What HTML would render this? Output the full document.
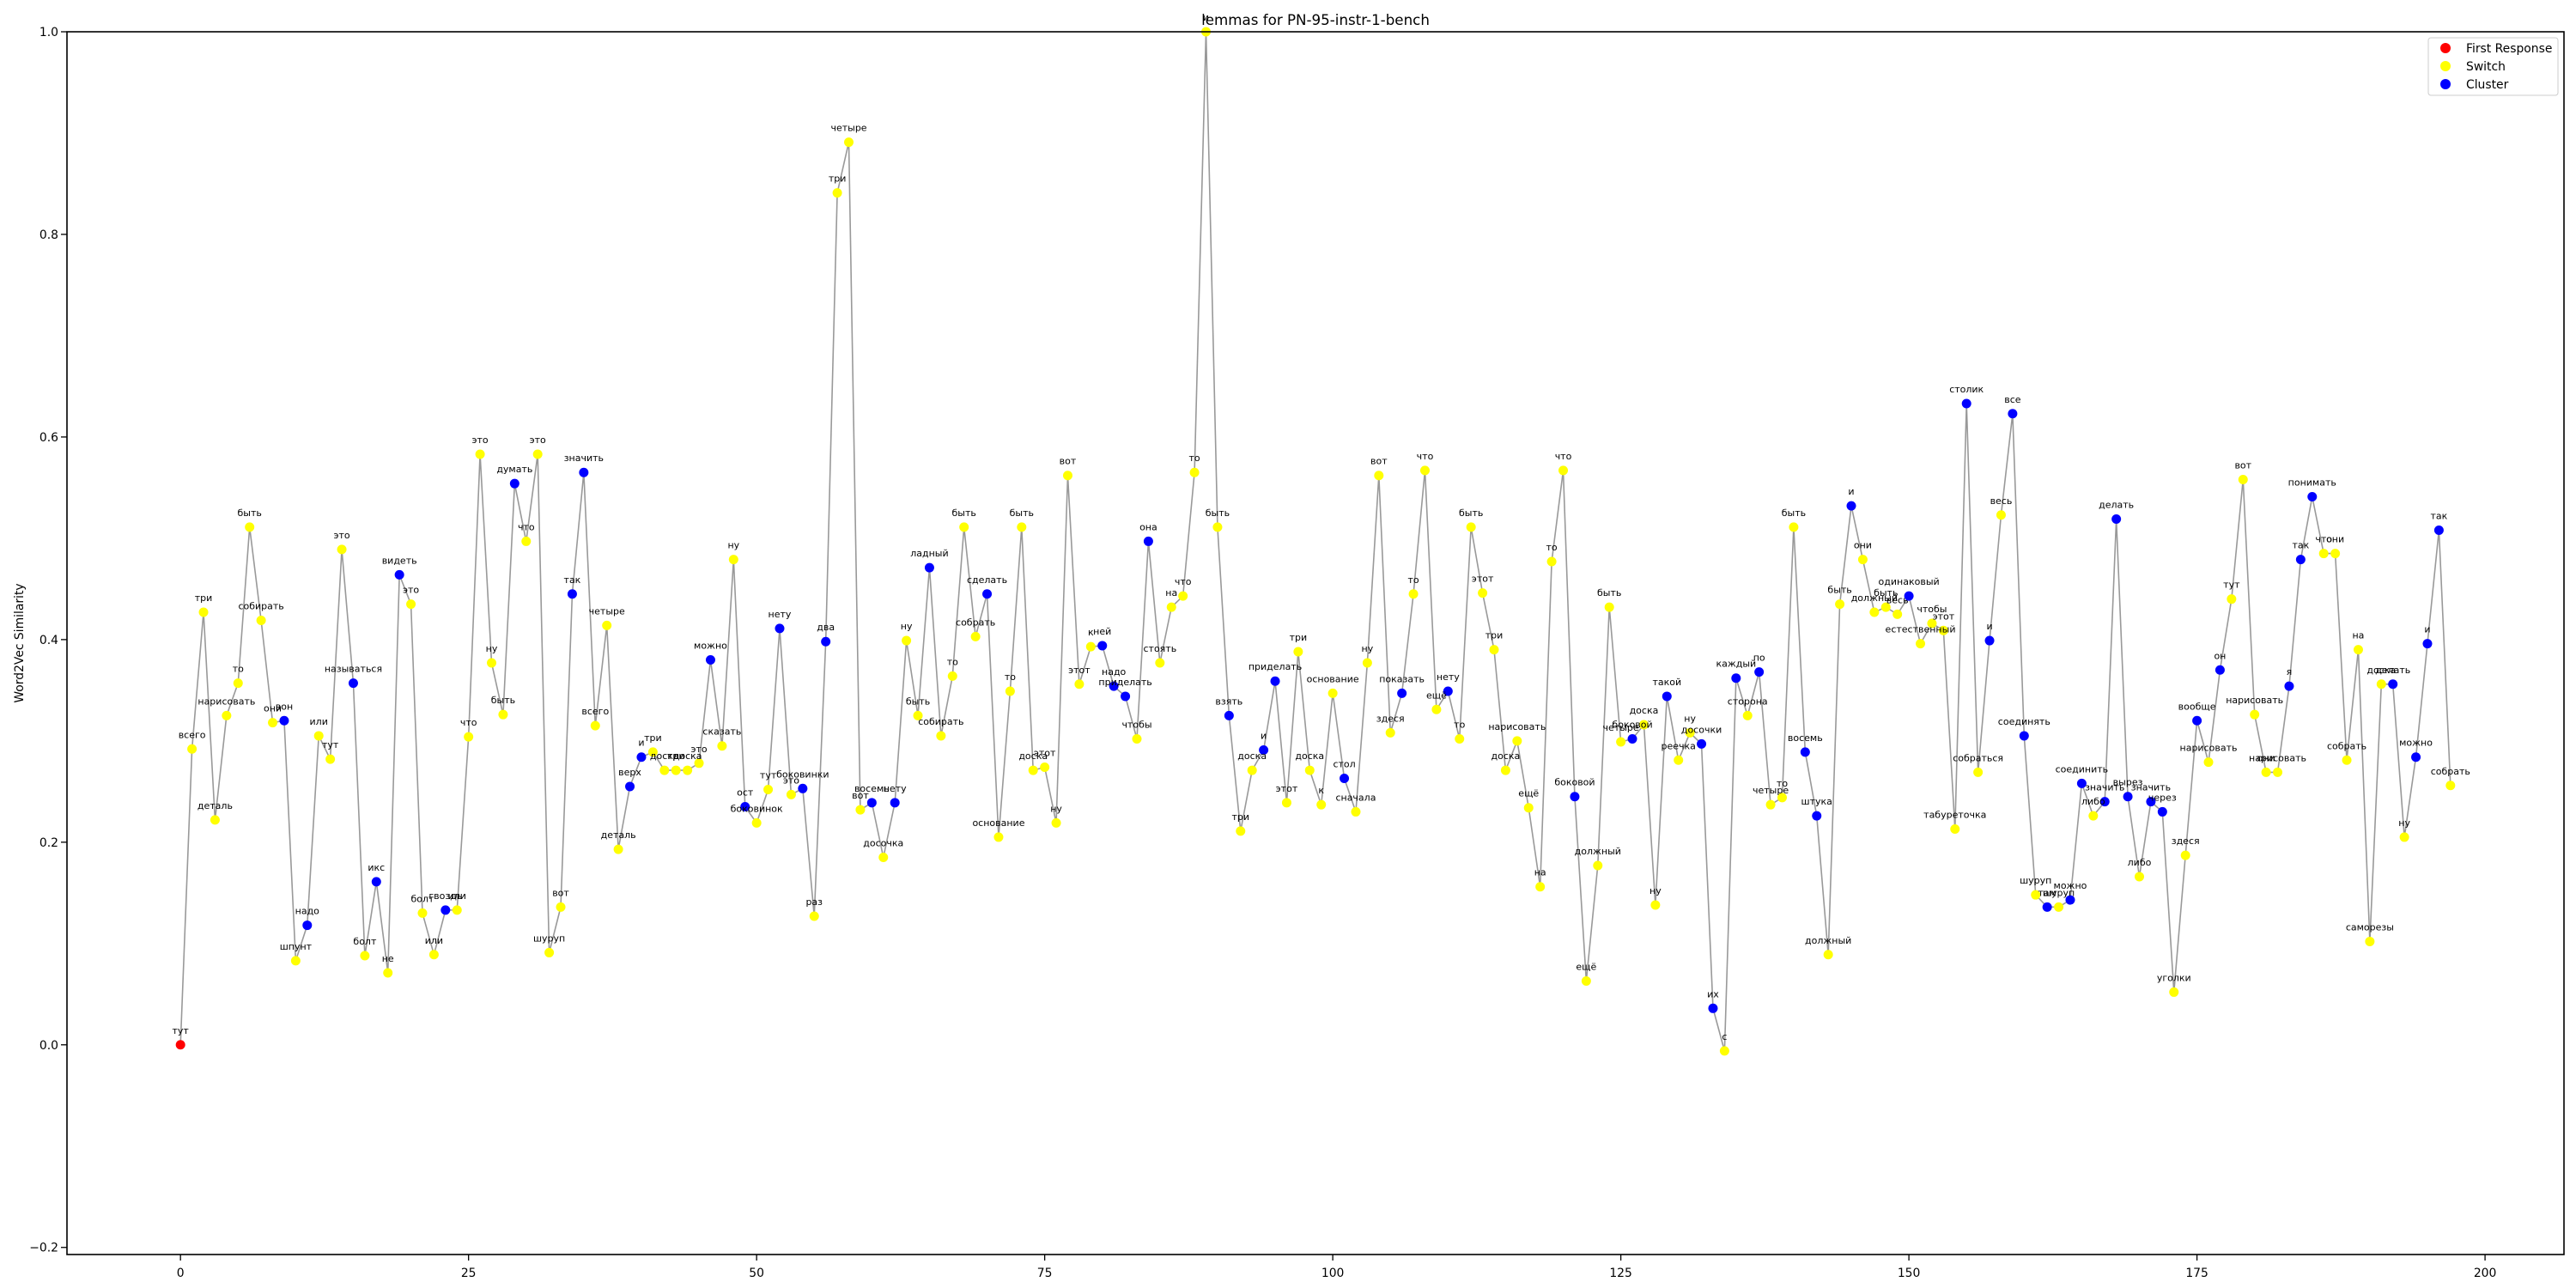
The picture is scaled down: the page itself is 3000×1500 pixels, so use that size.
<!DOCTYPE html>
<html><head><meta charset="utf-8">
<style>
html,body{margin:0;padding:0;background:#fff;}
svg{display:block;font-family:"DejaVu Sans","Liberation Sans",sans-serif;}
</style></head>
<body>
<svg id="chart" xmlns="http://www.w3.org/2000/svg" width="3000" height="1500" viewBox="0 0 3000 1500">
<rect x="0" y="0" width="3000" height="1500" fill="#fff"/>
<text x="1532" y="29" font-size="16.7" text-anchor="middle">lemmas for PN-95-instr-1-bench</text>
<g id="series"></g>
<rect x="78" y="37" width="2908" height="1424" fill="none" stroke="#000" stroke-width="1.6"/>
<g id="axes"></g>
<text transform="translate(27,749) rotate(-90)" font-size="13.9" text-anchor="middle">Word2Vec Similarity</text>
<g>
<rect x="2828" y="44" width="151" height="67" rx="3" fill="#fff" fill-opacity="0.8" stroke="#ccc" stroke-width="1"/>
<g><circle cx="2848" cy="56" r="6" fill="red"/><text x="2872" y="61" font-size="13.9">First Response</text></g>
<g><circle cx="2848" cy="77" r="6" fill="yellow"/><text x="2872" y="82" font-size="13.9">Switch</text></g>
<g><circle cx="2848" cy="98" r="6" fill="blue"/><text x="2872" y="103" font-size="13.9">Cluster</text></g>
</g>
</svg>
<script>
const words = ["тут","всего","три","деталь","нарисовать","то","быть","собирать","они","вон","шпунт","надо","или","тут","это","называться","болт","икс","не","видеть","это","болт","или","гвоздь","или","что","это","ну","быть","думать","что","это","шуруп","вот","так","значить","всего","четыре","деталь","верх","и","три","доска","три","доска","это","можно","сказать","ну","ост","боковинок","тут","нету","это","боковинки","раз","два","три","четыре","вот","восемь","досочка","нету","ну","быть","ладный","собирать","то","быть","собрать","сделать","основание","то","быть","доска","этот","ну","вот","этот","к","ней","надо","приделать","чтобы","она","стоять","на","что","то","и","быть","взять","три","доска","и","приделать","этот","три","доска","к","основание","стол","сначала","ну","вот","здеся","показать","то","что","ещё","нету","то","быть","этот","три","доска","нарисовать","ещё","на","то","что","боковой","ещё","должный","быть","четыре","боковой","доска","ну","такой","реечка","ну","досочки","их","с","каждый","сторона","по","четыре","то","быть","восемь","штука","должный","быть","и","они","должный","быть","весь","одинаковый","естественный","чтобы","этот","табуреточка","столик","собраться","и","весь","все","соединять","шуруп","там","шуруп","можно","соединить","либо","значить","делать","вырез","либо","значить","через","уголки","здеся","вообще","нарисовать","он","тут","вот","нарисовать","они","нарисовать","я","так","понимать","что","они","собрать","на","саморезы","доска","делать","ну","можно","и","так","собрать"];
const values = [0,0.292,0.427,0.222,0.325,0.357,0.511,0.419,0.318,0.320,0.083,0.118,0.305,0.282,0.489,0.357,0.088,0.161,0.071,0.464,0.435,0.130,0.089,0.133,0.133,0.304,0.583,0.377,0.326,0.554,0.497,0.583,0.091,0.136,0.445,0.565,0.315,0.414,0.193,0.255,0.284,0.289,0.271,0.271,0.271,0.278,0.380,0.295,0.479,0.235,0.219,0.252,0.411,0.247,0.253,0.127,0.398,0.841,0.891,0.232,0.239,0.185,0.239,0.399,0.325,0.471,0.305,0.364,0.511,0.403,0.445,0.205,0.349,0.511,0.271,0.274,0.219,0.562,0.356,0.393,0.394,0.354,0.344,0.302,0.497,0.377,0.432,0.443,0.565,1.0,0.511,0.325,0.211,0.271,0.291,0.359,0.239,0.388,0.271,0.237,0.347,0.263,0.230,0.377,0.562,0.308,0.347,0.445,0.567,0.331,0.349,0.302,0.511,0.446,0.390,0.271,0.300,0.234,0.156,0.477,0.567,0.245,0.063,0.177,0.432,0.299,0.302,0.316,0.138,0.344,0.281,0.308,0.297,0.036,-0.006,0.362,0.325,0.368,0.237,0.244,0.511,0.289,0.226,0.089,0.435,0.532,0.479,0.427,0.432,0.425,0.443,0.396,0.416,0.409,0.213,0.633,0.269,0.399,0.523,0.623,0.305,0.148,0.136,0.136,0.143,0.258,0.226,0.240,0.519,0.245,0.166,0.240,0.230,0.052,0.187,0.320,0.279,0.370,0.440,0.558,0.326,0.269,0.269,0.354,0.479,0.541,0.485,0.485,0.281,0.390,0.102,0.356,0.356,0.205,0.284,0.396,0.508,0.256];
const kinds = ["F","SSSSSSSS","C","S","C","SSS","C","S","C","S","C","SSS","C","SSSSS","C","SSSS","CC","SSS","CC","SSSSS","C","SS","C","SS","C","S","C","S","C","SSS","C","S","C","SS","C","SSSS","C","SSSSSSSSS","CCC","S","C","SSSSSS","C","SS","CC","SSSSS","C","SSSS","C","SSS","C","SSSSSSSSSS","C","SSSS","C","SS","C","SS","CC","S","C","S","C","SSS","CC","SS","C","SSSS","C","SSSS","C","S","C","S","CC","S","C","S","CC","S","CCC","S","CC","SS","C","S","C","SSSSS","CCC","SSSSSS","C","S","CCC","S"].join("");
const xTicks = [0,25,50,75,100,125,150,175,200];
const yTicks = [-0.2,0,0.2,0.4,0.6,0.8,1.0];
const yTickLabels = ["−0.2","0.0","0.2","0.4","0.6","0.8","1.0"];

const NS = "http://www.w3.org/2000/svg";
const X0=78, X1=2986, Y0=37, Y1=1461;
const xMin=-9.85, xMax=206.85, yMin=-0.207, yMax=1.0;
function xs(v){return X0+(v-xMin)/(xMax-xMin)*(X1-X0);}
function ys(v){return Y1-(v-yMin)/(yMax-yMin)*(Y1-Y0);}
function mk(tag, attrs, parent){const e=document.createElementNS(NS,tag);for(const k in attrs)e.setAttribute(k,attrs[k]);parent.appendChild(e);return e;}
const colors={F:"red",S:"yellow",C:"blue"};
const axes=document.getElementById("axes"), series=document.getElementById("series");

xTicks.forEach(t=>{
  const g=mk("g",{},axes);
  
  
  mk("line",{x1:xs(t),x2:xs(t),y1:Y1,y2:Y1+7,stroke:"#000","stroke-width":1.3},g);
  const tx=mk("text",{x:xs(t),y:Y1+26,"font-size":13.9,"text-anchor":"middle"},g);
  tx.textContent=String(t);
});
yTicks.forEach((t,i)=>{
  const g=mk("g",{},axes);
  
  
  mk("line",{x1:X0-7,x2:X0,y1:ys(t),y2:ys(t),stroke:"#000","stroke-width":1.3},g);
  const tx=mk("text",{x:X0-10,y:ys(t)+5,"font-size":13.9,"text-anchor":"end"},g);
  tx.textContent=yTickLabels[i];
});

let d="";
values.forEach((v,i)=>{d+=(i?"L":"M")+xs(i).toFixed(2)+","+ys(v).toFixed(2);});
const line=mk("path",{d:d,fill:"none",stroke:"#999","stroke-width":1.6},series);



values.forEach((v,i)=>{
  const c=mk("circle",{cx:xs(i),cy:ys(v),r:5.5,fill:colors[kinds[i]]||"yellow"},series);
  
  
});
values.forEach((v,i)=>{
  const t=mk("text",{x:xs(i),y:ys(v)-13,"font-size":11,"text-anchor":"middle"},series);
  
  
  t.textContent=words[i];
});
</script>
</body></html>
